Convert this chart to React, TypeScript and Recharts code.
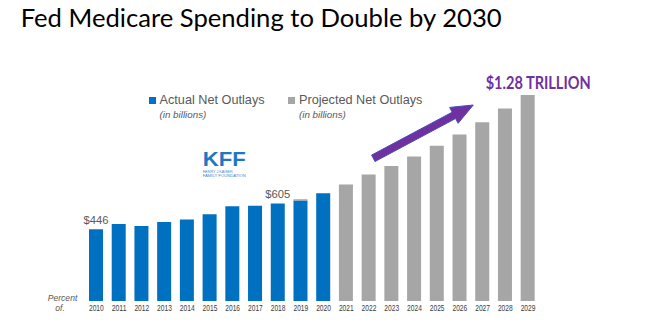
import { BarChart, Bar, XAxis, YAxis, LabelList } from 'recharts';

const years = ['2010', '2011', '2012', '2013', '2014', '2015', '2016', '2017', '2018', '2019',
  '2020', '2021', '2022', '2023', '2024', '2025', '2026', '2027', '2028', '2029'];
// net outlays in billions
const actual = [446, 479, 466, 491, 506, 539, 589, 591, 605, 624, 670, 0, 0, 0, 0, 0, 0, 0, 0, 0];
const projected = [0, 0, 0, 0, 0, 0, 0, 0, 0, 8, 0, 723, 785, 839, 897, 964, 1034, 1111, 1196, 1280];
const barLabels = ['$446', '', '', '', '', '', '', '', '$605', '', '', '', '', '', '', '', '', '', '', ''];

const data = years.map((year, i) => ({
  year,
  actual: actual[i],
  projected: projected[i],
  label: barLabels[i],
}));

const BLUE = '#0070C0';
const GRAY = '#A6A6A6';
const TEXT = '#595959';
const PURPLE = '#7030A0';
const FONT = '"Liberation Sans", Arial, sans-serif';

function YearTick({ x, y, payload }: { x?: number; y?: number; payload?: { value: string } }) {
  return (
    <text x={x} y={(y ?? 0) + 8.3} textAnchor="middle" fontSize={8.2} fill="#3a3a3a" fontFamily={FONT}
      textLength={14.8} lengthAdjust="spacingAndGlyphs">
      {payload?.value}
    </text>
  );
}

function BarValue(props: any) {
  const { x, y, width, value } = props;
  if (!value) return null;
  return (
    <text x={x + width / 2} y={y - 5.5} textAnchor="middle" fontSize={11.2} fill={TEXT} fontFamily={FONT}>
      {value}
    </text>
  );
}

// annotation arrow, drawn as a polygon from tail to tip
function arrowPoints(x1: number, y1: number, x2: number, y2: number) {
  const dx = x2 - x1, dy = y2 - y1;
  const len = Math.hypot(dx, dy);
  const ux = dx / len, uy = dy / len;
  const nx = -uy, ny = ux;
  const shaft = 3.6, head = 9, headLen = 22;
  const bx = x2 - ux * headLen, by = y2 - uy * headLen;
  const pts = [
    [x1 + nx * shaft, y1 + ny * shaft],
    [bx + nx * shaft, by + ny * shaft],
    [bx + nx * head, by + ny * head],
    [x2, y2],
    [bx - nx * head, by - ny * head],
    [bx - nx * shaft, by - ny * shaft],
    [x1 - nx * shaft, y1 - ny * shaft],
  ];
  return pts.map(p => p.map(v => v.toFixed(1)).join(',')).join(' ');
}

function LegendItem({ color, label, left }: { color: string; label: string; left: number }) {
  return (
    <div style={{ position: 'absolute', left, top: 93, fontFamily: FONT, color: TEXT }}>
      <div style={{ display: 'flex', alignItems: 'center' }}>
        <span style={{ width: 7, height: 7, background: color, marginRight: 4, display: 'inline-block' }} />
        <span style={{ fontSize: 12.7, lineHeight: '15px' }}>{label}</span>
      </div>
      <div style={{ fontSize: 9.8, fontStyle: 'italic', marginLeft: 11, lineHeight: '13px' }}>(in billions)</div>
    </div>
  );
}

export default function App() {
  return (
    <div style={{ position: 'absolute', left: 0, top: 0, width: 647, height: 323, background: '#fff', overflow: 'hidden' }}>
      <BarChart width={647} height={323} data={data}
        margin={{ top: 75.6, right: 107.6, left: 85, bottom: 0 }} barSize={14}>
        <XAxis dataKey="year" height={22} axisLine={false} tickLine={false} tickSize={0} tick={<YearTick />} interval={0} />
        <YAxis hide domain={[0, 1400]} />
        <Bar dataKey="actual" stackId="a" fill={BLUE} isAnimationActive={false}>
          <LabelList dataKey="label" content={<BarValue />} />
        </Bar>
        <Bar dataKey="projected" stackId="a" fill={GRAY} isAnimationActive={false} />
      </BarChart>

      <svg width={647} height={323} style={{ position: 'absolute', left: 0, top: 0, pointerEvents: 'none' }}>
        <text x={20.7} y={27} fontSize={25} fill="#000" fontFamily='Lato, "Open Sans", sans-serif'
          textLength={481} lengthAdjust="spacingAndGlyphs">
          Fed Medicare Spending to Double by 2030
        </text>
        <text x={485.7} y={89.3} fontSize={16.5} fontWeight={700} fill={PURPLE} fontFamily='Lato, "Open Sans", sans-serif'
          textLength={105} lengthAdjust="spacingAndGlyphs">
          $1.28 TRILLION
        </text>
        <polygon points={arrowPoints(373.3, 158.3, 473.3, 105)} fill={PURPLE} stroke="#3F4FBF" strokeWidth={1} />

        {/* KFF logo */}
        <text x={202.7} y={165.5} fontSize={20.5} fontWeight={900} fill="#1F77C4" fontFamily={FONT}
          textLength={43} lengthAdjust="spacingAndGlyphs">KFF</text>
        <text x={202.7} y={172.6} fontSize={3.6} fill="#3A8AD0" fontFamily={FONT}
          textLength={30} lengthAdjust="spacingAndGlyphs">HENRY J KAISER</text>
        <text x={202.7} y={177} fontSize={3.6} fill="#3A8AD0" fontFamily={FONT}
          textLength={43} lengthAdjust="spacingAndGlyphs">FAMILY FOUNDATION</text>

        <text x={62.5} y={300.5} textAnchor="middle" fontSize={8.6} fontStyle="italic" fill={TEXT} fontFamily={FONT}>Percent</text>
        <text x={60} y={311} textAnchor="middle" fontSize={8.6} fontStyle="italic" fill={TEXT} fontFamily={FONT}>of.</text>
      </svg>

      <LegendItem color={BLUE} label="Actual Net Outlays" left={148.5} />
      <LegendItem color={GRAY} label="Projected Net Outlays" left={288} />
    </div>
  );
}
